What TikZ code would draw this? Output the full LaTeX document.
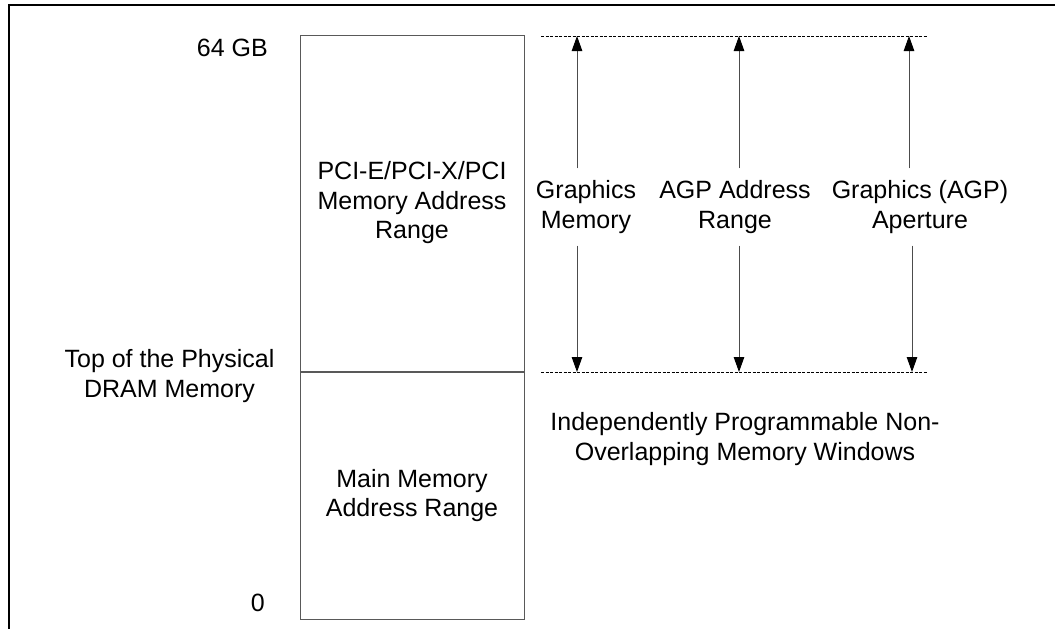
\documentclass[tikz,border=0pt]{standalone}
\usepackage{fontspec}
\setmainfont{Liberation Sans}
\usetikzlibrary{arrows.meta, positioning}
\tikzset{
  txt/.style={align=center, inner sep=0pt, font=\fontsize{25}{29.5}\selectfont},
  blk/.style={draw=black!65, line width=1pt, minimum width=224pt, txt},
  win/.style={line width=1pt, dash pattern=on 3pt off 1.5pt},
  arr/.style={color=black!70, line width=1pt, -{Triangle[length=15pt,width=10.5pt,color=black]}},
}
\begin{document}
\begin{tikzpicture}[x=1pt,y=-1pt]
\useasboundingbox (0,0) rectangle (1055,629);
%frame
\draw[line width=2pt] (9,629) -- (9,5) -- (1055,5);
%memory map
\node[blk, minimum height=336pt] (pci) at (412,203) {PCI-E/PCI-X/PCI\\Memory Address\\Range};
\node[blk, minimum height=247pt, below=0pt of pci] (main) {Main Memory\\Address Range};
%left labels
\node[txt, anchor=base east] (top) at (268,56) {64 GB};
\node[txt] (dram) at (169.5,376) {Top of the Physical\\DRAM Memory};
\node[txt, anchor=base east] (zero) at (265,611) {0};
%window limits
\coordinate (wtl) at (541,36);
\coordinate (wtr) at (928,36);
\coordinate (wbl) at (541,372);
\coordinate (wbr) at (928,372);
\draw[win] (wtl) -- (wtr);
\draw[win] (wbl) -- (wbr);
%windows
\node[txt, inner ysep=12pt] (gfx) at (586,207) {Graphics\\Memory};
\node[txt, inner ysep=12pt] (agp) at (735,207) {AGP Address\\Range};
\node[txt, inner ysep=12pt] (apt) at (920,207) {Graphics (AGP)\\Aperture};
\coordinate (t1) at (577,36);
\coordinate (t2) at (739,36);
\coordinate (t3) at (909,36);
\coordinate (b1) at (577,372);
\coordinate (b2) at (739,372);
\coordinate (b3) at (912,372);
\draw[arr] (gfx.north -| t1) -- (t1);
\draw[arr] (gfx.south -| b1) -- (b1);
\draw[arr] (agp.north -| t2) -- (t2);
\draw[arr] (agp.south -| b2) -- (b2);
\draw[arr] (apt.north -| t3) -- (t3);
\draw[arr] (apt.south -| b3) -- (b3);
\node[txt] (note) at (745,439) {Independently Programmable Non-\\Overlapping Memory Windows};
\end{tikzpicture}
\end{document}
